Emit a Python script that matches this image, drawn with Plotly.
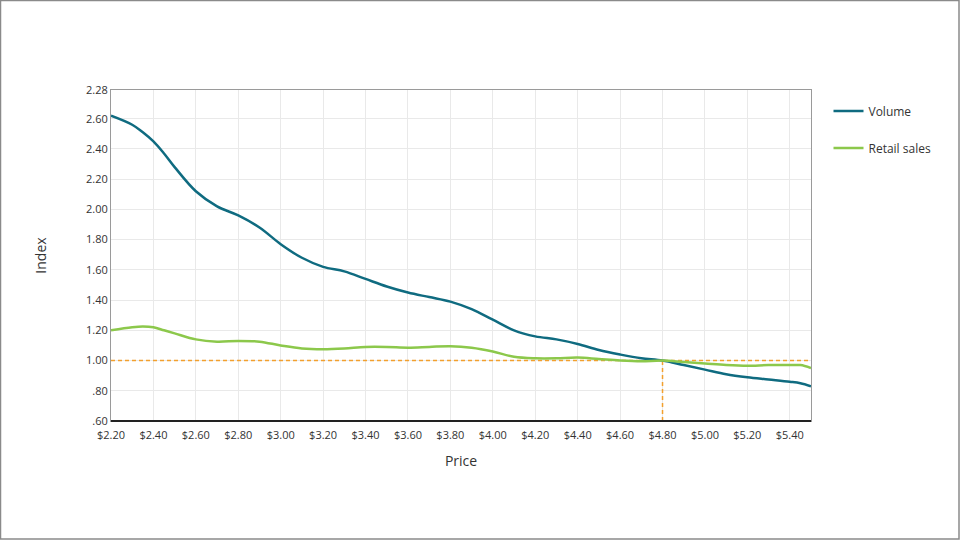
#!/usr/bin/python3
"""price elasticity index chart"""
import plotly.graph_objects as go

# price points
price = [2.20, 2.30, 2.35, 2.40, 2.45, 2.50, 2.60, 2.70, 2.80, 2.90,
         3.00, 3.10, 3.20, 3.30, 3.40, 3.50, 3.60, 3.70, 3.80, 3.90,
         4.00, 4.10, 4.20, 4.30, 4.40, 4.50, 4.60, 4.70, 4.80, 4.90,
         5.00, 5.10, 5.20, 5.30, 5.40, 5.45, 5.50]

volume = [2.62, 2.56, 2.51, 2.45, 2.37, 2.28, 2.12, 2.02, 1.96, 1.88,
          1.77, 1.68, 1.62, 1.59, 1.54, 1.49, 1.45, 1.42, 1.39, 1.34,
          1.27, 1.20, 1.16, 1.14, 1.11, 1.07, 1.04, 1.015, 1.00, 0.97,
          0.94, 0.91, 0.89, 0.875, 0.86, 0.85, 0.83]

retail_sales = [1.20, 1.22, 1.225, 1.22, 1.20, 1.18, 1.14, 1.125, 1.13, 1.125,
                1.10, 1.08, 1.075, 1.08, 1.09, 1.09, 1.085, 1.09, 1.095, 1.085,
                1.06, 1.025, 1.015, 1.015, 1.02, 1.01, 1.00, 0.995, 1.00, 0.99,
                0.98, 0.97, 0.965, 0.97, 0.97, 0.97, 0.95]

x_ticks = [2.2, 2.4, 2.6, 2.8, 3.0, 3.2, 3.4, 3.6, 3.8, 4.0, 4.2, 4.4,
           4.6, 4.8, 5.0, 5.2, 5.4]
x_tick_text = ["$2.20", "$2.40", "$2.60", "$2.80", "$3.00", "$3.20", "$3.40",
               "$3.60", "$3.80", "$4.00", "$4.20", "$4.40", "$4.60", "$4.80",
               "$5.00", "$5.20", "$5.40"]
y_ticks = [0.6, 0.8, 1.0, 1.2, 1.4, 1.6, 1.8, 2.0, 2.2, 2.4, 2.6, 2.79]
y_tick_text = [".60", ".80", "1.00", "1.20", "1.40", "1.60", "1.80", "2.00",
               "2.20", "2.40", "2.60", "2.28"]

base_index = 1.0
base_price = 4.80

FONT = "Open Sans"
TEAL = "#0f6b80"
GREEN = "#8cc84b"
ORANGE = "#f2a02e"

fig = go.Figure()
fig.add_trace(go.Scatter(x=price, y=volume, name="Volume", mode="lines",
                         line=dict(color=TEAL, width=2.5, shape="spline"),
                         legendgroup="v"))
fig.add_trace(go.Scatter(x=price, y=retail_sales, name="Retail sales", mode="lines",
                         line=dict(color=GREEN, width=2.5, shape="spline"),
                         legendgroup="r"))

# reference lines
fig.add_shape(type="line", xref="x", yref="y", x0=x_ticks[0], x1=5.5,
              y0=base_index, y1=base_index,
              line=dict(color=ORANGE, width=1.5, dash="4px,3px"), layer="between")
fig.add_shape(type="line", xref="x", yref="y", x0=base_price, x1=base_price,
              y0=y_ticks[0], y1=base_index,
              line=dict(color=ORANGE, width=1.5, dash="4px,3px"), layer="between")
# bottom axis line
fig.add_shape(type="line", xref="paper", yref="paper", x0=0, x1=1, y0=0, y1=0,
              line=dict(color="#222222", width=2))
# outer frame
fig.add_shape(type="rect", xref="paper", yref="paper",
              x0=-110.5 / 700, x1=1 + 148 / 700, y0=-118 / 331, y1=1 + 89.5 / 331,
              line=dict(color="#8a8a8a", width=1.5))

fig.update_layout(
    width=960, height=540,
    margin=dict(l=111, r=149, t=90, b=119),
    paper_bgcolor="white", plot_bgcolor="white",
    font=dict(family=FONT, size=11, color="#333333"),
    showlegend=True,
    legend=dict(x=1.025, y=0.98, xanchor="left", yanchor="top",
                font=dict(size=12, color="#333333"), tracegroupgap=18,
                itemwidth=30),
)
fig.update_xaxes(range=[2.2, 5.5], tickvals=x_ticks, ticktext=x_tick_text,
                 showgrid=True, gridcolor="#e9e9e9", gridwidth=1,
                 showline=True, linecolor="#9a9a9a", linewidth=1, mirror=True,
                 ticks="", zeroline=False, ticklabelstandoff=4,
                 title=dict(text="Price", font=dict(size=14, color="#333333"),
                            standoff=14))
fig.update_yaxes(range=[0.6, 2.79], tickvals=y_ticks, ticktext=y_tick_text,
                 showgrid=True, gridcolor="#e9e9e9", gridwidth=1,
                 showline=True, linecolor="#9a9a9a", linewidth=1, mirror=True,
                 ticks="", zeroline=False,
                 title=dict(text="Index", font=dict(size=14, color="#333333"),
                            standoff=36))

fig.write_html("out.html", config={"displayModeBar": False},
               post_script="document.body.style.margin='0';")
